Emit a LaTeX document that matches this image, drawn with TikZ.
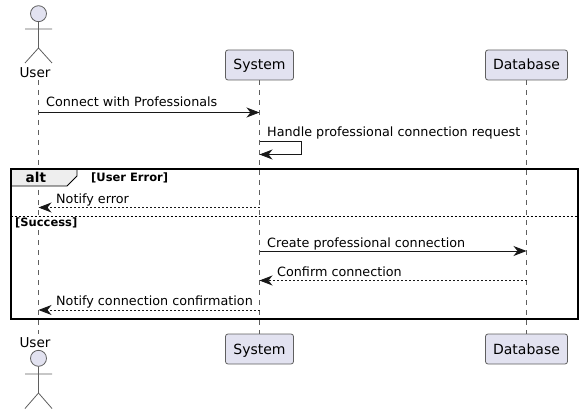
\documentclass[tikz,border=0pt]{standalone}
\usepackage{fontspec}
\setmainfont{DejaVu Sans}
\usetikzlibrary{arrows.meta,positioning}
\definecolor{partfill}{HTML}{E2E2F0}
\definecolor{partline}{HTML}{5F5F5F}
\definecolor{tabfill}{HTML}{EEEEEE}
\definecolor{inkline}{HTML}{181818}
\tikzset{
  partbox/.style={draw=partline,fill=partfill,line width=0.8pt,rounded corners=2.5pt,minimum height=30pt,inner sep=0pt,text height=12pt,text depth=2pt,font=\fontsize{14}{16}\selectfont},
  actorname/.style={inner sep=0pt,anchor=base,font=\fontsize{13.6}{16}\selectfont},
  actorline/.style={draw=partline,line width=0.8pt},
  lifeline/.style={draw=partline,line width=0.6pt,dash pattern=on 5pt off 5pt},
  msg/.style={draw=inkline,line width=0.9pt,-{Stealth[length=13pt,width=10pt,inset=4pt]}},
  reply/.style={msg,dash pattern=on 2pt off 2pt},
  msgtext/.style={inner sep=0pt,anchor=base west,font=\fontsize{12.75}{15}\selectfont},
  guardtext/.style={inner sep=0pt,anchor=base west,font=\fontsize{11.5}{13}\selectfont\bfseries},
}
\begin{document}
\begin{tikzpicture}[x=1pt,y=-1pt]
\useasboundingbox (0,0) rectangle (583,414);
% participants
\node [partbox,minimum width=68pt] (systemtop) at (259.5,65) {System};
\node [partbox,minimum width=82pt] (dbtop) at (526.5,65) {Database};
\node [partbox,minimum width=68pt] (systembot) at (259.5,349) {System};
\node [partbox,minimum width=82pt] (dbbot) at (526.5,349) {Database};
\node [actorname] (usertop) at (35,78) {User};
\node [actorname] (userbot) at (35,347) {User};
\coordinate (uline1) at (38.5,80);
\coordinate (uline2) at (38.5,334);
% lifelines
\draw [lifeline] (uline1) -- (uline2);
\draw [lifeline] (systemtop) -- (systembot);
\draw [lifeline] (dbtop) -- (dbbot);
% actors
\draw [actorline,fill=partfill] (38.5,13.7) circle (8);
\draw [actorline] (38.5,21.7) -- (38.5,48) (25,29) -- (52,29) (25,63) -- (38.5,48) -- (52,63);
\draw [actorline,fill=partfill] (38.5,358.3) circle (8);
\draw [actorline] (38.5,366.3) -- (38.5,393) (25,374) -- (52,374) (25,408.5) -- (38.5,393) -- (52,408.5);
% alt frame
\draw [draw=black,fill=tabfill,line width=0.8pt] (10.5,169.5) -- (77,169.5) -- (77,176) -- (67,186) -- (10.5,186) -- cycle;
\draw [draw=black,line width=2pt] (10.5,169.5) rectangle (578,318.5);
\draw [draw=black,line width=0.8pt,dash pattern=on 2pt off 2pt] (10.5,216) -- (578,216);
\node [inner sep=0pt,anchor=base west,font=\fontsize{13.6}{16}\selectfont\bfseries] (alttag) at (25.5,182.5) {alt};
\node [guardtext] (guarderr) at (91,182) {[User Error]};
\node [guardtext] (guardok) at (15,226) {[Success]};
% messages
\coordinate (row1) at (0,112.5);
\coordinate (row2a) at (301.5,141.5);
\coordinate (row2b) at (301.5,154.5);
\coordinate (row3) at (0,207.5);
\coordinate (row4) at (0,251);
\coordinate (row5) at (0,280.5);
\coordinate (row6) at (0,310);
\draw [msg] (uline1 |- row1) -- (systemtop |- row1);
\draw [msg] (systemtop |- row2a) -- (row2a) -- (row2b) -- (systemtop |- row2b);
\draw [reply] (systemtop |- row3) -- (uline1 |- row3);
\draw [msg] (systemtop |- row4) -- (dbtop |- row4);
\draw [reply] (dbtop |- row5) -- (systemtop |- row5);
\draw [reply] (systemtop |- row6) -- (uline1 |- row6);
\node [msgtext] (msgconnect) at (46,107) {Connect with Professionals};
\node [msgtext] (msghandle) at (267,137) {Handle professional connection request};
\node [msgtext] (msgerror) at (56,203) {Notify error};
\node [msgtext] (msgcreate) at (267,247) {Create professional connection};
\node [msgtext] (msgconfirm) at (277,276) {Confirm connection};
\node [msgtext] (msgnotify) at (56,305) {Notify connection confirmation};
\end{tikzpicture}
\end{document}
